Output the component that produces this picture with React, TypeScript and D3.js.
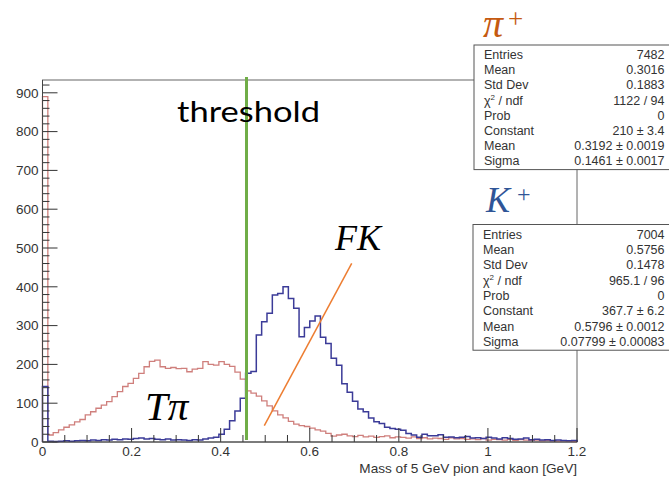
import React from 'react';
import * as d3 from 'd3';

// Histogram binning: 100 equal bins over [0, 1.2] GeV
const massMin = 0;
const massMax = 1.2;
const binCount = 100;

// pi+ candidates (red outline)
const pionCounts = [
  890,
  18, 24, 31, 38, 44, 52, 58, 70, 78, 87, 95, 104, 117, 130, 143, 151, 164, 177, 194,
  208, 211, 194, 190, 192, 189, 190, 181, 188, 190, 207, 200, 198, 207, 200, 195, 180, 162,
  132, 126, 118, 106, 93, 80, 70, 62, 53, 46, 42, 40, 36, 31, 28, 22, 15,
  18, 20, 16, 14, 17, 13, 15, 12, 14, 16, 11, 13, 12, 10, 13, 9, 11, 8,
  10, 9, 7, 11, 8, 9, 7, 8, 6, 9, 5, 7, 6, 5, 7, 4, 6, 5,
  4, 5, 3, 4, 3, 2, 3, 2, 1,
];

// K+ candidates (blue outline)
const kaonCounts = [
  143,
  2, 1, 2, 3, 2, 3, 4, 3, 5, 4, 6, 5, 7, 6, 8, 7, 9, 10, 8, 9,
  7, 6, 8, 5, 6, 5, 4, 6, 5, 8, 10, 12,
  20, 33, 55, 80, 113, 177, 182,
  276, 310, 332, 379, 383, 400, 370, 345, 271, 295, 312, 325, 270, 254, 216, 198, 150,
  128, 105, 85, 78, 62, 52, 48, 38, 35, 33, 30, 22, 18, 12, 20, 16, 16, 19, 12,
  13, 11, 12, 14, 10, 11, 9, 12, 10, 8, 11, 9, 7, 8, 10, 6, 7, 5, 6, 4, 5, 4, 3, 4,
];

const xTickValues = [0, 0.2, 0.4, 0.6, 0.8, 1, 1.2];
const xTickLabels = ['0', '0.2', '0.4', '0.6', '0.8', '1', '1.2'];
const yTickValues = [0, 100, 200, 300, 400, 500, 600, 700, 800, 900];
const yMax = 933;

const thresholdMass = 0.458;

const pionStats: [string, string][] = [
  ['Entries', '7482'],
  ['Mean', '0.3016'],
  ['Std Dev', '0.1883'],
  ['CHI2', '1122 / 94'],
  ['Prob', '0'],
  ['Constant', '210 \u00b1 3.4'],
  ['Mean', '0.3192 \u00b1 0.0019'],
  ['Sigma', '0.1461 \u00b1 0.0017'],
];

const kaonStats: [string, string][] = [
  ['Entries', '7004'],
  ['Mean', '0.5756'],
  ['Std Dev', '0.1478'],
  ['CHI2', '965.1 / 96'],
  ['Prob', '0'],
  ['Constant', '367.7 \u00b1 6.2'],
  ['Mean', '0.5796 \u00b1 0.0012'],
  ['Sigma', '0.07799 \u00b1 0.00083'],
];

const W = 669;
const H = 478;
const plot = { left: 42.5, right: 577, top: 80, bottom: 442 };

const sansFont = '"Liberation Sans", Arial, Helvetica, sans-serif';
const mathFont = '"Liberation Serif", "Times New Roman", serif';

function StatsBox({ x, y, rows, spacing }: { x: number; y: number; rows: [string, string][]; spacing: number }) {
  const top = y;
  const h = spacing * 8 + 3;
  return (
    <g>
      <rect x={x} y={top} width={W - x + 10} height={h} fill="#fff" stroke="#555" strokeWidth={1} />
      {rows.map(([k, v], i) => {
        const by = top + 14 + i * spacing;
        return (
          <g key={i} fontFamily={sansFont} fontSize={12.5} fill="#333">
            <text x={x + 10} y={by}>
              {k === 'CHI2' ? (
                <>
                  <tspan>{'\u03c7'}</tspan>
                  <tspan dy={-4.5} fontSize={8}>2</tspan>
                  <tspan dy={4.5}>{' / ndf'}</tspan>
                </>
              ) : (
                k
              )}
            </text>
            <text x={W - 4.5} y={by} textAnchor="end">
              {v}
            </text>
          </g>
        );
      })}
    </g>
  );
}

export default function App() {
  const x = d3.scaleLinear().domain([massMin, massMax]).range([plot.left, plot.right]);
  const y = d3.scaleLinear().domain([0, yMax]).range([plot.bottom, plot.top]);
  const binWidth = (massMax - massMin) / binCount;

  const stepPath = (counts: number[]) => {
    const pts: [number, number][] = [[massMin, 0]];
    counts.forEach((c, i) => pts.push([massMin + i * binWidth, c]));
    pts.push([massMax, counts[counts.length - 1]]);
    pts.push([massMax, 0]);
    const line = d3
      .line<[number, number]>()
      .x((d) => x(d[0]))
      .y((d) => y(d[1]))
      .curve(d3.curveStepAfter);
    return line(pts) || '';
  };

  const yMinor = d3.range(0, yMax, 20);
  const xMinor = d3.range(0, massMax + 1e-9, 0.05);

  return (
    <svg
      width={W}
      height={H}
      viewBox={`0 0 ${W} ${H}`}
      style={{ position: 'absolute', left: 0, top: 0, background: '#fff', overflow: 'hidden' }}
    >
      <rect x={0} y={0} width={W} height={H} fill="#fff" />

      {/* frame */}
      <rect
        x={plot.left}
        y={plot.top}
        width={plot.right - plot.left}
        height={plot.bottom - plot.top}
        fill="none"
        stroke="#666"
        strokeWidth={1}
      />

      {/* histograms */}
      <path d={stepPath(pionCounts)} fill="none" stroke="#cf7f7c" strokeWidth={1.3} />
      <path d={stepPath(kaonCounts)} fill="none" stroke="#3b3b98" strokeWidth={1.5} />

      {/* axis ticks */}
      <g stroke="#333" strokeWidth={1}>
        {yMinor.map((v) => {
          const major = v % 100 === 0;
          return (
            <line key={`ym${v}`} x1={plot.left} x2={plot.left + (major ? 15 : 7)} y1={y(v)} y2={y(v)} />
          );
        })}
        {xMinor.map((v, i) => {
          const major = i % 4 === 0;
          return (
            <line key={`xm${i}`} x1={x(v)} x2={x(v)} y1={plot.bottom} y2={plot.bottom - (major ? 14 : 7)} />
          );
        })}
      </g>
      <line x1={plot.left} x2={plot.left} y1={plot.top} y2={plot.bottom} stroke="#444" strokeWidth={1} />
      <line x1={plot.left} x2={plot.right} y1={plot.bottom} y2={plot.bottom} stroke="#444" strokeWidth={1} />

      {/* tick labels */}
      <g fontFamily={sansFont} fontSize={13.5} fill="#333">
        {yTickValues.map((v) => (
          <text key={`yl${v}`} x={plot.left - 4} y={y(v)} dy="0.35em" textAnchor="end">
            {v}
          </text>
        ))}
        {xTickValues.map((v, i) => (
          <text key={`xl${v}`} x={x(v)} y={plot.bottom + 13.5} textAnchor="middle">
            {xTickLabels[i]}
          </text>
        ))}
      </g>
      <text x={plot.right} y={473} textAnchor="end" fontFamily={sansFont} fontSize={13.6} fill="#333">
        Mass of 5 GeV pion and kaon [GeV]
      </text>

      {/* threshold marker */}
      <line x1={x(thresholdMass)} x2={x(thresholdMass)} y1={77} y2={plot.bottom - 2} stroke="#70ad47" strokeWidth={3} />
      <text
        x={177}
        y={122}
        fontFamily="Lato, 'Open Sans', sans-serif"
        fontSize={29.5}
        fill="#000"
        textLength={143}
        lengthAdjust="spacingAndGlyphs"
      >
        threshold
      </text>

      {/* annotations */}
      <line x1={351.7} y1={263.3} x2={264.3} y2={425.7} stroke="#ed7d31" strokeWidth={1.5} />
      <text x={335} y={250} fontFamily={mathFont} fontStyle="italic" fontSize={36} fill="#000">
        FK
      </text>
      <text x={145} y={420} fontFamily={mathFont} fontStyle="italic" fontSize={41} fill="#000">
        T{'\u03c0'}
      </text>

      {/* stats boxes sit over the right frame edge */}
      <StatsBox x={474} y={45} rows={pionStats} spacing={15.2} />
      <StatsBox x={473} y={224.5} rows={kaonStats} spacing={15.34} />

      {/* particle labels */}
      <text x={483} y={37} fontFamily={mathFont} fontStyle="italic" fontSize={40} fill="#c55a11">
        {'\u03c0'}
      </text>
      <text x={508} y={28} fontFamily={mathFont} fontSize={27} fill="#c55a11">
        +
      </text>
      <text x={486} y={212} fontFamily={mathFont} fontStyle="italic" fontSize={36} fill="#2f5597">
        K
      </text>
      <text x={517} y={202} fontFamily={mathFont} fontSize={24} fill="#2f5597">
        +
      </text>
    </svg>
  );
}
